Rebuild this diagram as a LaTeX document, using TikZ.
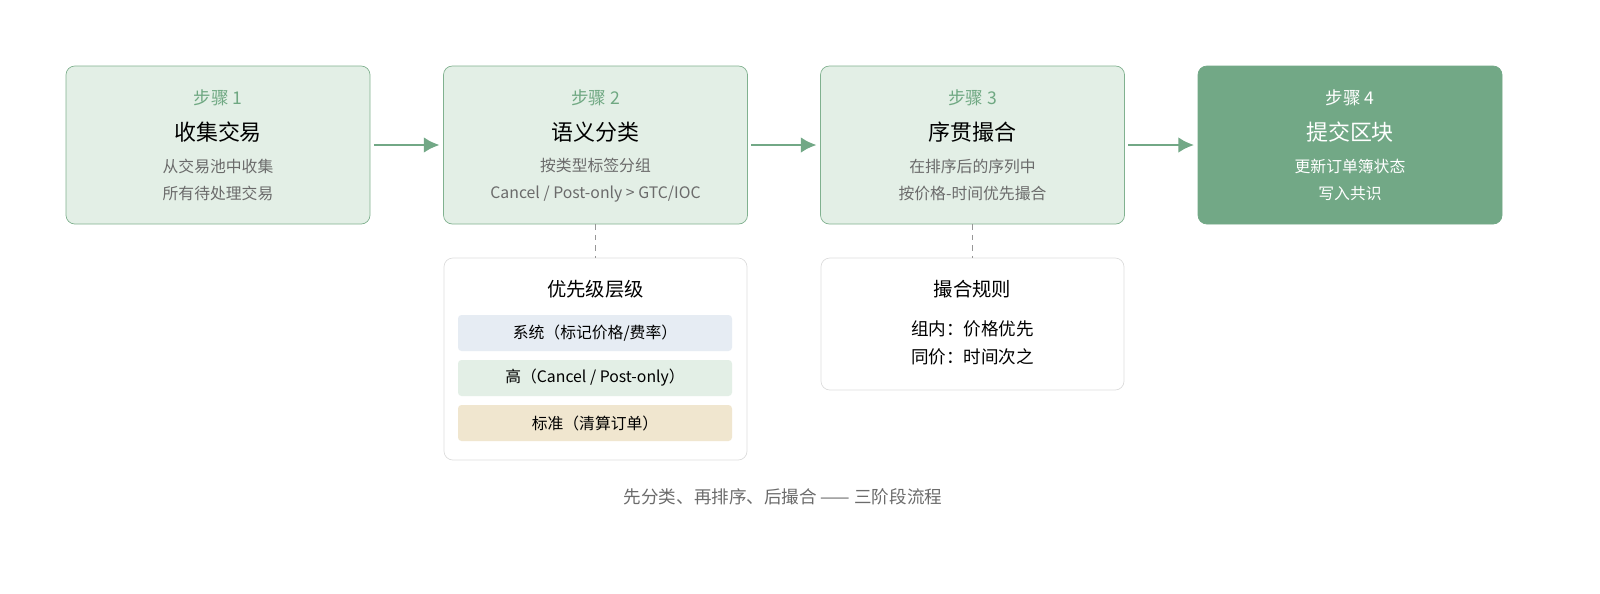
\documentclass[tikz,border=0pt]{standalone}
\usepackage{fontspec}
\setmainfont{Noto Sans CJK SC}
\usetikzlibrary{positioning,arrows.meta}
\definecolor{stepfill}{HTML}{E3EFE6}
\definecolor{stepline}{HTML}{80B18F}
\definecolor{stepdark}{HTML}{72A886}
\definecolor{steptext}{HTML}{6FA882}
\definecolor{greytext}{HTML}{6B6B6B}
\definecolor{barblue}{HTML}{E6ECF3}
\definecolor{bartan}{HTML}{F0E6CF}
\definecolor{panelline}{HTML}{DDDDDD}
\begin{document}
\begin{tikzpicture}[
        x=0.02cm, y=-0.02cm,
        stagebox/.style={draw=stepline, fill=stepfill, rounded corners=5pt, minimum width=304*0.02cm, minimum height=158*0.02cm, inner sep=0pt},
        laststage/.style={stagebox, draw=stepdark, fill=stepdark},
        panel/.style={draw=panelline, fill=white, rounded corners=5pt, minimum width=303*0.02cm, inner sep=0pt},
        bar/.style={fill=#1, rounded corners=2pt, minimum width=274*0.02cm, minimum height=36*0.02cm, inner sep=0pt, font=\fontsize{9}{10}\selectfont},
        steplabel/.style={text=steptext, font=\fontsize{10}{12}\selectfont},
        title/.style={font=\fontsize{12.5}{14}\selectfont},
        body/.style={text=greytext, font=\fontsize{9}{15}\selectfont, align=center},
        flow/.style={-{Latex[length=9pt,width=9pt]}, line width=1.6pt, draw=stepdark, shorten >=2pt, shorten <=2pt},
        link/.style={dashed, draw=greytext!70, line width=0.8pt}
    ]
        \useasboundingbox (0,0) rectangle (1600,593);

        % Stages
        \node[stagebox] (s1) at (218,145) {};
        \node[stagebox] (s2) at (595.5,145) {};
        \node[stagebox] (s3) at (972.5,145) {};
        \node[laststage] (s4) at (1350,145) {};

        \node[steplabel] at (218,98) {步骤 1};
        \node[title] at (218,132) {收集交易};
        \node[body] at (218,180) {从交易池中收集\\所有待处理交易};

        \node[steplabel] at (595.5,98) {步骤 2};
        \node[title] at (595.5,132) {语义分类};
        \node[body] at (595.5,180) {按类型标签分组\\Cancel / Post-only > GTC/IOC};

        \node[steplabel] at (972.5,98) {步骤 3};
        \node[title] at (972.5,132) {序贯撮合};
        \node[body] at (972.5,180) {在排序后的序列中\\按价格-时间优先撮合};

        \node[steplabel, text=white] at (1350,98) {步骤 4};
        \node[title, text=white] at (1350,132) {提交区块};
        \node[body, text=white] at (1350,180) {更新订单簿状态\\写入共识};

        % Flow
        \draw[flow] (s1) -- (s2);
        \draw[flow] (s2) -- (s3);
        \draw[flow] (s3) -- (s4);

        % Detail panels
        \node[panel, minimum height=202*0.02cm] (prio) at (595.5,359) {};
        \node[panel, minimum height=132*0.02cm] (rules) at (972.5,324) {};
        \draw[link] (s2) -- (prio);
        \draw[link] (s3) -- (rules);

        \node[font=\fontsize{11}{13}\selectfont] at (595.5,289) {优先级层级};
        \node[bar=barblue] (sys) at (595,333) {系统（标记价格/费率）};
        \node[bar=stepfill] (high) at (595,378) {高（Cancel / Post-only）};
        \node[bar=bartan] (std) at (595,423) {标准（清算订单）};

        \node[font=\fontsize{11}{13}\selectfont] at (972.5,289) {撮合规则};
        \node[align=center, font=\fontsize{10}{16}\selectfont] at (972.5,343) {组内：价格优先\\同价：时间次之};

        % Caption
        \node[text=greytext, font=\fontsize{10}{12}\selectfont] at (783,497) {先分类、再排序、后撮合 —— 三阶段流程};
\end{tikzpicture}
\end{document}
